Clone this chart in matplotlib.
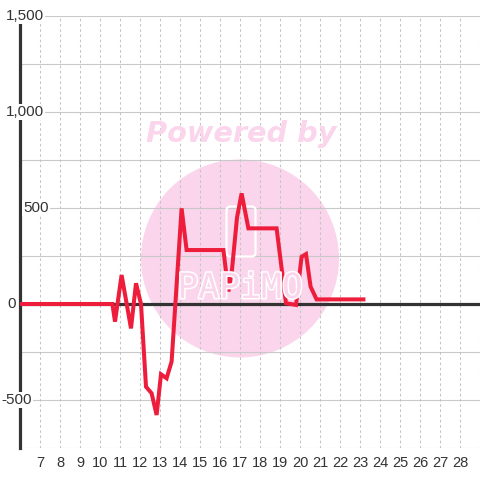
import matplotlib
matplotlib.use("Agg")
import matplotlib.pyplot as plt
from matplotlib.patches import Circle, FancyBboxPatch
import matplotlib.patheffects as pe

# ---- data ----
x_vals = [6, 10.62, 10.75, 11.08, 11.55, 11.8, 12.05, 12.3, 12.58, 12.83, 13.05, 13.33,
          13.58, 14.08, 14.33, 16.17, 16.42, 16.6, 16.85, 17.08, 17.42, 18.83, 19.3,
          19.8, 20.08, 20.3, 20.53, 20.83, 23.17]
y_vals = [0, 0, -92, 151, -127, 108, 0, -431, -465, -578, -366, -387,
          -300, 498, 281, 281, 65, 180, 450, 576, 394, 394, 4,
          -5, 246, 260, 90, 24, 24]
x_ticks = list(range(7, 29))
y_ticks = [-500, 0, 500, 1000, 1500]
y_tick_labels = ["-500", "0", "500", "1,000", "1,500"]
y_grid = [-750, -500, -250, 0, 250, 500, 750, 1000, 1250, 1500]

dark = "#333333"
red = "#ee1d3b"
pink = "#fad5ec"

fig = plt.figure(figsize=(4.8, 4.8), dpi=100)
fig.patch.set_facecolor("white")
ax = fig.add_axes([20/480, 32/480, 460/480, 432/480])
ax.set_xlim(6, 29)
ax.set_ylim(-750, 1500)

for s in ["top", "right", "bottom"]:
    ax.spines[s].set_visible(False)
ax.spines["left"].set_color(dark)
ax.spines["left"].set_linewidth(2.3)
ax.spines["left"].set_zorder(2.5)

# watermark circle
circ = Circle((2.40, 4.8 - 2.585), 0.99, transform=fig.dpi_scale_trans,
              facecolor=pink, edgecolor="none", zorder=0.1, clip_on=False)
ax.add_patch(circ)

# grid
for g in y_grid:
    ax.axhline(g, color="#c9c9c9", lw=0.8, zorder=0.5)
for t in x_ticks + [29]:
    ax.axvline(t, color="#c4c4c4", lw=0.75, ls=(0, (2.5, 2.5)), zorder=0.5)

# logo
rect = FancyBboxPatch((2.265, 4.8 - 2.565), 0.29, 0.50, boxstyle="round,pad=0,rounding_size=0.04",
                      transform=fig.dpi_scale_trans, facecolor="none", edgecolor="white",
                      lw=1.6, zorder=1, clip_on=False)
ax.add_patch(rect)
fig.text(240/480, 1 - 288/480, "PAPiMO", fontsize=25, family="DejaVu Sans Mono",
         color=pink, ha="center", va="center", zorder=1,
         path_effects=[pe.withStroke(linewidth=2.2, foreground="white")])
fig.text(241/480, 1 - 134/480, "Powered by", fontsize=20.7, family="DejaVu Sans",
         fontweight="bold", style="italic", color=pink, ha="center", va="center")

# zero line
ax.axhline(0, color=dark, lw=2.3, zorder=2)

# series
ax.plot(x_vals, y_vals, color=red, lw=2.9, zorder=3, solid_joinstyle="miter")

# ticks
ax.set_xticks(x_ticks)
ax.set_xticklabels([str(t) for t in x_ticks], fontsize=10.5, family="Liberation Sans", color=dark)
ax.tick_params(axis="x", length=0, pad=6)
ax.set_yticks([])

label_centers_px = {"-500": 16.5, "0": 12, "500": 36, "1,000": 24.5, "1,500": 24.5}
for v, lab in zip(y_ticks, y_tick_labels):
    cx = label_centers_px[lab] / 480
    yfig = ax.transData.transform((6, v))[1] / 480
    fig.text(cx, yfig, lab, fontsize=11, family="Liberation Sans", color=dark,
             ha="center", va="center", zorder=4,
             bbox=dict(facecolor="white", edgecolor="none", pad=1))

fig.savefig("out.png", dpi=100, facecolor="white")
